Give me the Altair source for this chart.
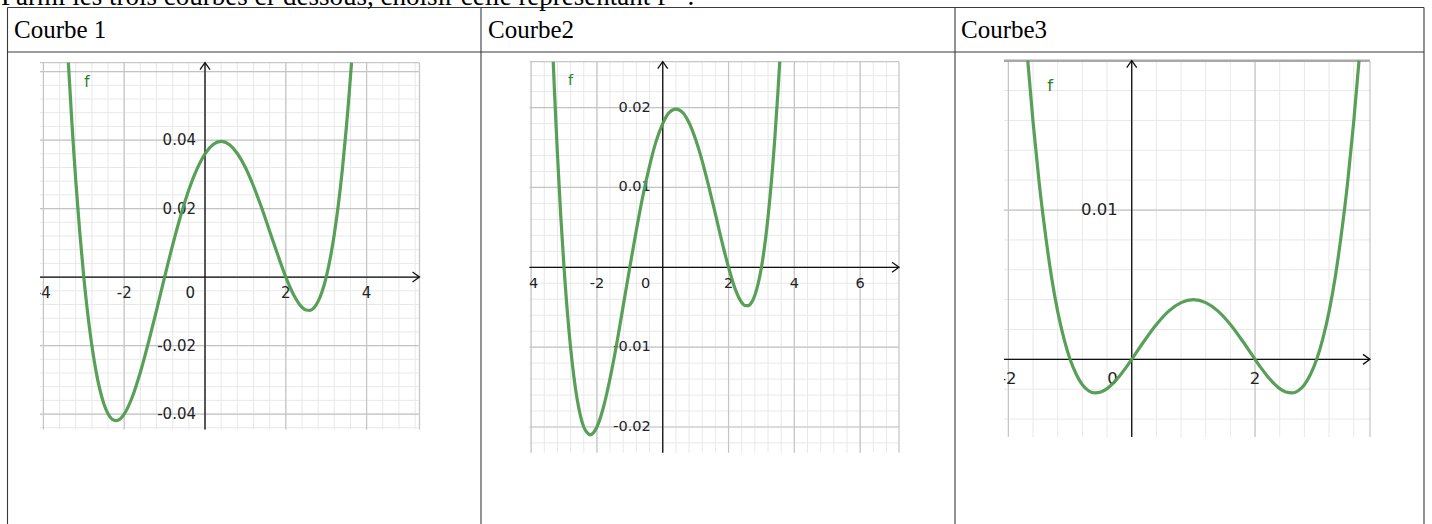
import math
import altair as alt
import pandas as pd

# ---------------- content ----------------
question = "Parmi les trois courbes ci-dessous, choisir celle représentant f ′ ?"
titles = ["Courbe 1", "Courbe2", "Courbe3"]
curve_name = "f"

# Courbe 1
c1_x = [-3.382, -3.3, -3.25, -3.2, -3.1, -3.0, -2.85, -2.7, -2.5, -2.4, -2.3, -2.2, -2.1, -2.0,
        -1.8, -1.6, -1.4, -1.2, -1.0, -0.8, -0.6, -0.4, -0.2, 0.0, 0.2, 0.4, 0.6, 0.8,
        1.0, 1.2, 1.4, 1.6, 1.8, 2.0, 2.2, 2.4, 2.5, 2.6, 2.7, 2.8, 3.0, 3.2, 3.4,
        3.5, 3.55, 3.627]
c1_y = [0.0626, 0.0461, 0.0369, 0.0284, 0.0131, 0.0, -0.0157, -0.0273, -0.0371, -0.0399, -0.0415, -0.0419, -0.0414, -0.0400,
        -0.0350, -0.0278, -0.0191, -0.0097, 0.0, 0.0094, 0.0180, 0.0255, 0.0315, 0.0360, 0.0387, 0.0396, 0.0387, 0.0361,
        0.0320, 0.0266, 0.0203, 0.0134, 0.0065, 0.0, -0.0053, -0.0088, -0.0096, -0.0097, -0.0089, -0.0071, 0.0, 0.0125, 0.0315,
        0.0439, 0.0508, 0.0626]
c1_xticks = [-4, -2, 2, 4]
c1_xlabels = ["-4", "-2", "2", "4"]
c1_yticks = [0.04, 0.02, -0.02, -0.04]
c1_ylabels = ["0.04", "0.02", "-0.02", "-0.04"]
c1_xview = [-4.084, 5.309]
c1_yview = [-0.0445, 0.0626]
c1_grid = [0.4, 2, 0.004, 0.02]      # minor x, major x, minor y, major y
c1_name_at = [-2.99, 0.0556]

# Courbe2
c2_x = [-3.328, -3.3, -3.25, -3.2, -3.1, -3.0, -2.85, -2.7, -2.5, -2.4, -2.3, -2.2, -2.1, -2.0,
        -1.8, -1.6, -1.4, -1.2, -1.0, -0.8, -0.6, -0.4, -0.2, 0.0, 0.2, 0.4, 0.6, 0.8,
        1.0, 1.2, 1.4, 1.6, 1.8, 2.0, 2.2, 2.4, 2.5, 2.6, 2.7, 2.8, 3.0, 3.2, 3.4,
        3.5, 3.555]
c2_y = [0.02575, 0.0230, 0.0185, 0.0142, 0.0065, 0.0, -0.0079, -0.0137, -0.0186, -0.0200, -0.0207, -0.0210, -0.0207, -0.0200,
        -0.0175, -0.0139, -0.0096, -0.0048, 0.0, 0.0047, 0.0090, 0.0127, 0.0158, 0.0180, 0.0194, 0.0198, 0.0194, 0.0181,
        0.0160, 0.0133, 0.0101, 0.0067, 0.0032, 0.0, -0.0027, -0.0044, -0.0048, -0.0048, -0.0044, -0.0035, 0.0, 0.0063, 0.0158,
        0.0219, 0.02575]
c2_xticks = [-4, -2, 2, 4, 6]
c2_xlabels = ["-4", "-2", "2", "4", "6"]
c2_yticks = [0.02, 0.01, -0.01, -0.02]
c2_ylabels = ["0.02", "0.01", "-0.01", "-0.02"]
c2_xview = [-4.055, 7.18]
c2_yview = [-0.02322, 0.02575]
c2_grid = [0.4, 2, 0.002, 0.01]
c2_name_at = [-2.88, 0.0228]

# Courbe3
c3_x = [-1.686, -1.6, -1.5, -1.4, -1.3, -1.2, -1.1, -1.0, -0.9, -0.8, -0.7, -0.6, -0.5, -0.4,
        -0.3, -0.2, -0.1, 0.0, 0.2, 0.4, 0.6, 0.8, 1.0, 1.2, 1.4, 1.6, 1.8, 2.0,
        2.1, 2.2, 2.3, 2.4, 2.5, 2.6, 2.7, 2.8, 2.9, 3.0, 3.1, 3.2, 3.3, 3.4, 3.5,
        3.6, 3.686]
c3_y = [0.0200, 0.0159, 0.0118, 0.0084, 0.0055, 0.0032, 0.0014, 0.0, -0.0010, -0.0017, -0.0021, -0.00225, -0.00219, -0.00196,
        -0.00159, -0.00113, -0.00059, 0.0, 0.00121, 0.00233, 0.00323, 0.00380, 0.0040, 0.00380, 0.00323, 0.00233, 0.00121, 0.0,
        -0.00059, -0.00113, -0.00159, -0.00196, -0.00219, -0.00225, -0.0021, -0.0017, -0.0010, 0.0, 0.0014, 0.0032, 0.0055, 0.0084, 0.0118,
        0.0159, 0.0200]
c3_xticks = [-2, 2]
c3_xlabels = ["-2", "2"]
c3_yticks = [0.01]
c3_ylabels = ["0.01"]
c3_xview = [-2.071, 3.864]
c3_yview = [-0.0052, 0.02]
c3_grid = [0.4, 2, 0.002, 0.01]
c3_name_at = [-1.37, 0.018]

# ---------------- layout & style ----------------
W, H = 1432, 524
COL_EDGES = [7.5, 481, 955, 1424]
TABLE_TOP, HEAD_BOTTOM = 7.5, 52
SERIF = "Liberation Serif"
SANS = "DejaVu Sans"
GREEN = "#4f9a4f"
NAME_GREEN = "#2a7d2a"
MINOR = "#e8e8e8"
MAJOR = "#c4c4c4"
LABEL = "#222222"

# pixel box (left, right, top, bottom) and text placement of each graph
LAYOUT = [
    dict(box=(40, 419.5, 62.7, 429.5), font=15, xdy=21, ydx=-9, zdx=-10, top_w=1.3, top_c="#c8c8c8"),
    dict(box=(529.3, 899, 61.7, 452.7), font=14.5, xdy=21, ydx=-12, zdx=-12.5, top_w=1.3, top_c="#c8c8c8"),
    dict(box=(1004, 1370, 60.7, 437), font=16.5, xdy=25, ydx=-14, zdx=-14, top_w=2.6, top_c="#a8a8a8"),
]


def grid_values(lo, hi, step):
    k0 = math.ceil(lo / step - 1e-9)
    k1 = math.floor(hi / step + 1e-9)
    return [round(k * step, 6) for k in range(k0, k1 + 1)]


def graph(cx, cy, xt, xl, yt, yl, xview, yview, steps, name_at, lay):
    left, right, top, bottom = lay["box"]
    xs = alt.Scale(domain=xview, range=[left, right], nice=False, zero=False)
    ys = alt.Scale(domain=yview, range=[bottom, top], nice=False, zero=False)

    def X(f):
        return alt.X(f, type="quantitative", scale=xs, axis=None)

    def Y(f):
        return alt.Y(f, type="quantitative", scale=ys, axis=None)

    x0, x1 = xview
    y0, y1 = yview

    def vlines(step, color, width):
        d = pd.DataFrame({"x": grid_values(x0, x1, step)})
        d["ya"], d["yb"] = y0, y1
        return alt.Chart(d).mark_rule(color=color, strokeWidth=width).encode(
            x=X("x"), y=Y("ya"), y2="yb")

    def hlines(step, color, width):
        d = pd.DataFrame({"y": grid_values(y0, y1, step)})
        d["xa"], d["xb"] = x0, x1
        return alt.Chart(d).mark_rule(color=color, strokeWidth=width).encode(
            y=Y("y"), x=X("xa"), x2="xb")

    layers = [
        vlines(steps[0], MINOR, 1), hlines(steps[2], MINOR, 1),
        vlines(steps[1], MAJOR, 1.2), hlines(steps[3], MAJOR, 1.2),
    ]
    # frame of the graphics view (top and right edges)
    layers.append(alt.Chart(pd.DataFrame({"y": [y1], "xa": [x0], "xb": [x1]})).mark_rule(
        color=lay["top_c"], strokeWidth=lay["top_w"]).encode(y=Y("y"), x=X("xa"), x2="xb"))
    layers.append(alt.Chart(pd.DataFrame({"x": [x1], "ya": [y0], "yb": [y1]})).mark_rule(
        color="#c8c8c8", strokeWidth=1.3).encode(x=X("x"), y=Y("ya"), y2="yb"))

    # axes through the origin
    layers.append(alt.Chart(pd.DataFrame({"y": [0], "xa": [x0], "xb": [x1]})).mark_rule(
        color="#111111", strokeWidth=1.3).encode(y=Y("y"), x=X("xa"), x2="xb"))
    layers.append(alt.Chart(pd.DataFrame({"x": [0], "ya": [y0], "yb": [y1]})).mark_rule(
        color="#111111", strokeWidth=1.3).encode(x=X("x"), y=Y("ya"), y2="yb"))
    layers.append(alt.Chart(pd.DataFrame({"x": [x1], "y": [0]})).mark_point(
        shape="M-1.4,-1L0,0L-1.4,1", size=100, filled=False, color="#111111",
        strokeWidth=1.3, opacity=1).encode(x=X("x"), y=Y("y")))
    layers.append(alt.Chart(pd.DataFrame({"x": [0], "y": [y1]})).mark_point(
        shape="M-1,1.4L0,0L1,1.4", size=100, filled=False, color="#111111",
        strokeWidth=1.3, opacity=1).encode(x=X("x"), y=Y("y")))

    # tick labels
    layers.append(alt.Chart(pd.DataFrame({"x": xt, "y": [0] * len(xt), "t": xl})).mark_text(
        align="center", baseline="alphabetic", dy=lay["xdy"], font=SANS, fontSize=lay["font"],
        color=LABEL).encode(x=X("x"), y=Y("y"), text="t:N"))
    layers.append(alt.Chart(pd.DataFrame({"x": [0] * len(yt), "y": yt, "t": yl})).mark_text(
        align="right", baseline="middle", dx=lay["ydx"], font=SANS, fontSize=lay["font"],
        color=LABEL).encode(x=X("x"), y=Y("y"), text="t:N"))
    layers.append(alt.Chart(pd.DataFrame({"x": [0], "y": [0], "t": ["0"]})).mark_text(
        align="right", baseline="alphabetic", dx=lay["zdx"], dy=lay["xdy"], font=SANS,
        fontSize=lay["font"], color=LABEL).encode(x=X("x"), y=Y("y"), text="t:N"))

    # the curve and its name
    layers.append(alt.Chart(pd.DataFrame({"x": cx, "y": cy})).mark_line(
        interpolate="monotone", color=GREEN, strokeWidth=3.2, opacity=0.95).encode(
        x=X("x"), y=Y("y"), order="x:Q"))
    layers.append(alt.Chart(pd.DataFrame({"x": [name_at[0]], "y": [name_at[1]], "t": [curve_name]})).mark_text(
        align="left", baseline="alphabetic", font=SANS, fontSize=lay["font"], color=NAME_GREEN).encode(
        x=X("x"), y=Y("y"), text="t:N"))
    return alt.layer(*layers)


g1 = graph(c1_x, c1_y, c1_xticks, c1_xlabels, c1_yticks, c1_ylabels, c1_xview, c1_yview, c1_grid, c1_name_at, LAYOUT[0])
g2 = graph(c2_x, c2_y, c2_xticks, c2_xlabels, c2_yticks, c2_ylabels, c2_xview, c2_yview, c2_grid, c2_name_at, LAYOUT[1])
g3 = graph(c3_x, c3_y, c3_xticks, c3_xlabels, c3_yticks, c3_ylabels, c3_xview, c3_yview, c3_grid, c3_name_at, LAYOUT[2])

one = pd.DataFrame({"k": [0]})

# white strips hide tick labels running past the left edge of each graphic
masks = []
for edge, lay in zip(COL_EDGES[:3], LAYOUT):
    masks.append(alt.Chart(one).mark_rect(color="white").encode(
        x=alt.value(edge + 1), x2=alt.value(lay["box"][0]),
        y=alt.value(HEAD_BOTTOM + 1), y2=alt.value(H)))

# table frame
hl = pd.DataFrame({"y": [TABLE_TOP, HEAD_BOTTOM], "xa": [COL_EDGES[0]] * 2, "xb": [COL_EDGES[-1]] * 2})
vl = pd.DataFrame({"x": COL_EDGES, "ya": [TABLE_TOP] * 4, "yb": [H] * 4})
frame_h = alt.Chart(hl).mark_rule(color="#3a3a3a", strokeWidth=1.1).encode(
    y=alt.Y("y:Q", scale=None), x=alt.X("xa:Q", scale=None), x2="xb")
frame_v = alt.Chart(vl).mark_rule(color="#3a3a3a", strokeWidth=1.1).encode(
    x=alt.X("x:Q", scale=None), y=alt.Y("ya:Q", scale=None), y2="yb")

heads = alt.Chart(pd.DataFrame({"t": titles, "x": [14, 488, 961]})).mark_text(
    align="left", baseline="alphabetic", font=SERIF, fontSize=25, color="black").encode(
    x=alt.X("x:Q", scale=None), y=alt.value(37.7), text="t:N")

ask = alt.Chart(one).mark_text(
    align="left", baseline="alphabetic", font=SERIF, fontSize=27, color="black", text=question).encode(
    x=alt.value(1), y=alt.value(4.5))

chart = alt.layer(g1, g2, g3, *masks, frame_h, frame_v, heads, ask).resolve_scale(
    x="independent", y="independent").properties(
    width=W, height=H, padding=0, autosize=alt.AutoSizeParams(type="none"),
    background="white").configure_view(stroke=None)

chart.save("out.html", embed_options={"renderer": "svg", "actions": False})
